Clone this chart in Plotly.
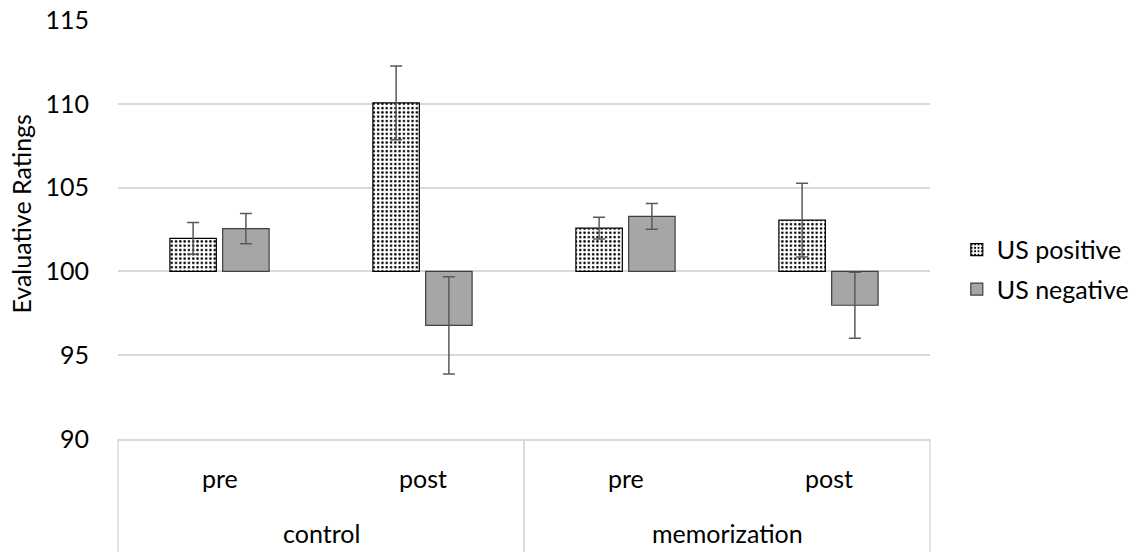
import plotly.graph_objects as go

groups = ["control", "control", "memorization", "memorization"]
phases = ["pre", "post", "pre", "post"]

us_positive = [101.97, 110.05, 102.58, 103.06]
us_positive_err = [0.95, 2.2, 0.65, 2.2]
us_negative = [102.55, 96.78, 103.28, 97.98]
us_negative_err = [0.9, 2.9, 0.77, 1.97]

BASE = 100
FONT = "Lato"
FS = 25
TXT = "#000000"
LINE = "#d9d9d9"

fig = go.Figure()
fig.add_trace(go.Bar(
    name="US positive",
    x=[groups, phases],
    y=[v - BASE for v in us_positive],
    base=BASE,
    legendgroup="pos",
    marker=dict(
        color="#ffffff",
        line=dict(color="#000000", width=1.2),
        pattern=dict(shape=".", fgcolor="#000000", bgcolor="#ffffff",
                     size=4.3, solidity=0.28, fillmode="replace"),
    ),
    error_y=dict(type="data", array=us_positive_err, visible=True,
                 color="#595959", thickness=1.5, width=6),
))
fig.add_trace(go.Bar(
    name="US negative",
    x=[groups, phases],
    y=[v - BASE for v in us_negative],
    base=BASE,
    legendgroup="neg",
    marker=dict(color="#a6a6a6", line=dict(color="#404040", width=1.2)),
    error_y=dict(type="data", array=us_negative_err, visible=True,
                 color="#595959", thickness=1.5, width=6),
))

# category labels and dividers of the two-level axis
n = len(phases)
annotations = []
for i, p in enumerate(phases):
    annotations.append(dict(text=p, xref="paper", yref="paper",
                            x=(i + 0.5) / n, y=-0.093, showarrow=False,
                            xanchor="center", yanchor="middle",
                            font=dict(family=FONT, size=FS, color=TXT)))
uniq = []
for g in groups:
    if g not in uniq:
        uniq.append(g)
shapes = []
for g in uniq:
    idx = [i for i, gg in enumerate(groups) if gg == g]
    lo, hi = min(idx) / n, (max(idx) + 1) / n
    annotations.append(dict(text=g, xref="paper", yref="paper",
                            x=(lo + hi) / 2, y=-0.224, showarrow=False,
                            xanchor="center", yanchor="middle",
                            font=dict(family=FONT, size=FS, color=TXT)))
    for xb in (lo, hi):
        shapes.append(dict(type="line", xref="paper", yref="paper",
                           x0=xb, x1=xb, y0=0, y1=-0.28,
                           line=dict(color=LINE, width=1.5), layer="below"))

annotations.append(dict(
    text="Evaluative Ratings", xref="paper", yref="paper",
    x=-0.12, y=0.537, textangle=-90, showarrow=False,
    xanchor="center", yanchor="middle",
    font=dict(family=FONT, size=FS, color=TXT),
))

fig.update_layout(
    width=1147, height=552,
    margin=dict(l=118, r=217, t=20, b=113, autoexpand=False),
    paper_bgcolor="#ffffff", plot_bgcolor="#ffffff",
    font=dict(family=FONT, size=FS, color=TXT),
    barmode="group", bargap=0.48, bargroupgap=0.12,
    showlegend=True,
    legend=dict(x=1.033, xanchor="left", y=0.405, yanchor="middle",
                traceorder="grouped", tracegroupgap=4,
                font=dict(family=FONT, size=FS, color=TXT),
                bgcolor="rgba(0,0,0,0)"),
    xaxis=dict(
        type="multicategory", automargin=False,
        showline=True, linecolor=LINE, linewidth=1.5,
        showgrid=False, ticks="", showticklabels=False,
        showdividers=False,
    ),
    yaxis=dict(
        range=[90, 115], dtick=5, tick0=90, automargin=False,
        showgrid=True, gridcolor=LINE, gridwidth=1.5,
        zeroline=False, showline=False, ticks="",
        ticklabelstandoff=28,
        tickfont=dict(family=FONT, size=FS, color=TXT),
    ),
    annotations=annotations,
    shapes=shapes,
)

fig.write_html("out.html",
               config={"displayModeBar": False},
               post_script="document.body.style.margin='0';"
                           "document.body.style.overflow='hidden';")
